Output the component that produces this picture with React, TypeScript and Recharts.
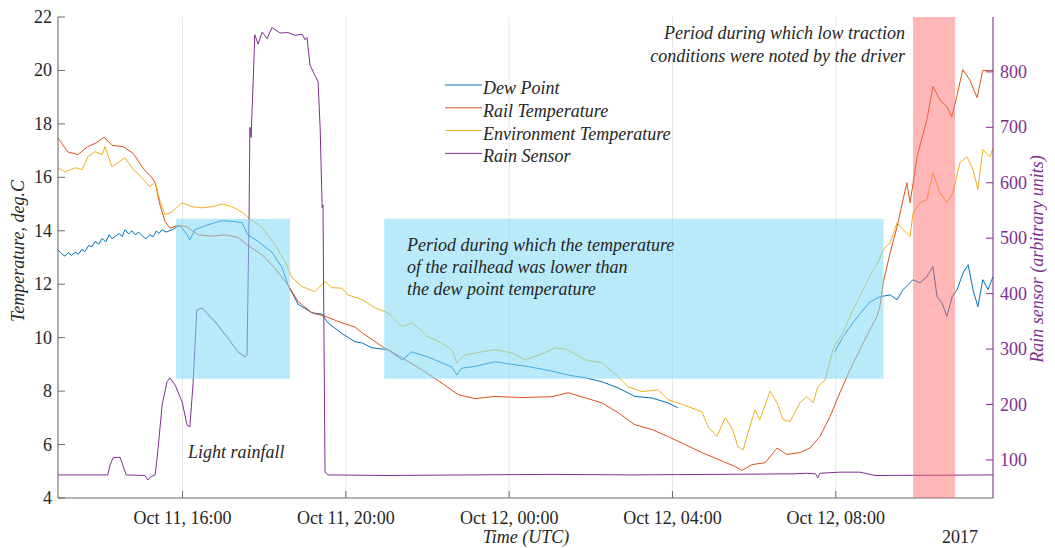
import React from "react";
import {
  LineChart,
  Line,
  XAxis,
  YAxis,
  CartesianGrid,
  ReferenceArea,
} from "recharts";

// time in hours since Oct 11 00:00 UTC
const dewTime = [
  12.95, 13.03, 13.12, 13.2, 13.28, 13.37, 13.45, 13.53, 13.61, 13.7, 13.78, 13.86, 13.95, 14.03, 14.12,
  14.2, 14.27, 14.36, 14.45, 14.52, 14.59, 14.68, 14.76, 14.84, 14.93, 15.02, 15.1, 15.2, 15.28, 15.36,
  15.42, 15.5, 15.6, 15.74, 15.94, 16.11, 16.18,
  16.3, 16.62, 16.97, 17.29, 17.46, 17.6, 17.85, 18.19, 18.44, 18.58, 18.83, 19.17, 19.42, 19.56, 19.91,
  20.22, 20.4, 20.64, 21.03, 21.38, 21.62, 22.01, 22.35, 22.6, 22.72, 22.84, 23.16, 23.65, 24.07, 24.46,
  24.88, 25.12, 25.44, 25.86, 26.27, 26.67, 27.08, 27.5, 27.89, 28.13, 30.0, 31.98, 32.18, 32.42, 32.67,
  32.84, 33.08, 33.33, 33.5, 33.65, 33.89, 34.06, 34.23, 34.38, 34.48, 34.6, 34.72, 34.85, 34.97, 35.12,
  35.24, 35.36, 35.48, 35.6, 35.73, 35.85,
];
const dewPoint: (number | null)[] = [
  13.29, 13.15, 13.05, 13.18, 13.08, 13.2, 13.12, 13.3, 13.22, 13.45, 13.4, 13.6, 13.5, 13.72, 13.58,
  13.85, 13.7, 13.8, 13.9, 13.78, 14.04, 13.88, 14.0, 13.85, 13.95, 13.8, 13.7, 13.85, 13.78, 14.0,
  13.9, 14.04, 13.95, 14.04, 14.2, 13.85, 13.66,
  14.04, 14.22, 14.38, 14.34, 14.3, 13.85, 13.6, 13.2, 12.62, 11.98, 11.25, 10.93, 10.88, 10.56, 10.15,
  9.85, 9.8, 9.62, 9.55, 9.17, 9.47, 9.28, 9.06, 8.9, 8.6, 8.86, 8.92, 9.1, 9.0, 8.92,
  8.8, 8.72, 8.6, 8.5, 8.35, 8.12, 7.8, 7.74, 7.56, 7.38, null, 9.48, 10.04, 10.56, 11.04,
  11.34, 11.53, 11.6, 11.42, 11.8, 12.17, 12.05, 12.28, 12.66, 11.53, 11.3, 10.8, 11.53, 11.8, 12.43,
  12.73, 11.8, 11.16, 12.17, 11.8, 12.28,
];

const railTime = [
  12.95, 13.19, 13.44, 13.68, 13.9, 14.08, 14.27, 14.54, 14.79, 15.03, 15.25, 15.33, 15.45, 15.57, 15.69,
  15.89, 16.11, 16.38, 16.72, 17.04, 17.36, 17.6, 17.95, 18.26, 18.58, 18.83, 19.17, 19.49, 19.91, 20.22,
  20.4, 20.89, 21.38, 21.86, 22.35, 22.75, 23.16, 23.65, 24.31, 24.8, 25.05, 25.44, 25.86, 26.27, 26.67,
  27.08, 27.5, 27.89, 28.31, 28.72, 29.11, 29.53, 29.7, 29.95, 30.27, 30.56, 30.8, 31.12, 31.37, 31.61,
  31.86, 32.1, 32.35, 32.67, 33.01, 33.08, 33.16, 33.33, 33.5, 33.74, 33.82, 33.99, 34.23, 34.38, 34.55,
  34.72, 34.84, 34.96, 35.11, 35.28, 35.46, 35.6, 35.85,
];
const railTemp = [
  17.47, 16.95, 16.85, 17.15, 17.3, 17.5, 17.2, 17.15, 16.9, 16.35, 15.98, 15.8, 14.95, 14.35, 14.1,
  14.2, 14.15, 13.85, 13.8, 13.85, 13.75, 13.45, 13.1, 12.6, 11.98, 11.35, 10.93, 10.8, 10.55, 10.4,
  10.18, 9.67, 9.25, 8.8, 8.3, 7.87, 7.72, 7.8, 7.76, 7.78, 7.79, 7.94, 7.75, 7.56, 7.19,
  6.74, 6.56, 6.3, 6.0, 5.7, 5.45, 5.18, 5.03, 5.25, 5.32, 5.87, 5.63, 5.7, 5.87, 6.3,
  7.05, 7.94, 8.8, 9.8, 10.8, 11.16, 12.05, 13.17, 14.15, 15.8, 15.05, 16.77, 18.15, 19.4, 18.9,
  18.65, 18.27, 19.0, 20.03, 19.65, 18.98, 20.0, 20.0,
];

const envTime = [
  12.95, 13.12, 13.37, 13.54, 13.68, 13.86, 14.03, 14.1, 14.27, 14.42, 14.59, 14.76, 15.01, 15.2, 15.33,
  15.45, 15.57, 15.74, 15.99, 16.23, 16.48, 16.72, 16.97, 17.21, 17.46, 17.6, 17.95, 18.26, 18.51, 18.68,
  18.93, 19.24, 19.49, 19.66, 19.91, 20.05, 20.4, 20.71, 21.03, 21.38, 21.62, 22.01, 22.35, 22.6, 22.72,
  22.92, 23.33, 23.65, 24.07, 24.39, 24.88, 25.12, 25.44, 25.86, 26.27, 26.67, 26.91, 27.25, 27.65, 27.89,
  28.13, 28.38, 28.72, 28.87, 29.09, 29.29, 29.48, 29.6, 29.73, 29.85, 30.02, 30.14, 30.39, 30.56, 30.71,
  30.88, 31.12, 31.29, 31.44, 31.56, 31.74, 31.93, 32.18, 32.42, 32.67, 32.91, 33.03, 33.16, 33.33, 33.5,
  33.65, 33.82, 33.89, 34.06, 34.23, 34.38, 34.55, 34.72, 34.87, 35.04, 35.21, 35.36, 35.48, 35.6, 35.78,
  35.85,
];
const envTemp = [
  16.36, 16.2, 16.36, 16.29, 16.77, 16.96, 16.85, 17.15, 16.4, 16.55, 16.73, 16.36, 15.98, 15.65, 15.83,
  15.1, 14.6, 14.7, 15.05, 14.9, 14.86, 14.9, 15.0, 14.9, 14.7, 14.5, 14.12, 13.48, 12.85, 12.25,
  11.91, 11.72, 12.1, 11.87, 11.85, 11.6, 11.42, 11.12, 10.93, 10.41, 10.56, 10.04, 9.8, 9.55, 9.06,
  9.36, 9.47, 9.55, 9.43, 9.17, 9.43, 9.62, 9.55, 9.17, 9.06, 8.54, 8.16, 7.98, 8.05, 7.68,
  7.56, 7.42, 7.23, 6.67, 6.3, 7.0, 6.55, 5.92, 5.8, 6.44, 7.3, 6.93, 8.0, 7.56, 6.93,
  6.86, 7.56, 7.8, 7.56, 8.16, 8.42, 9.55, 10.22, 11.04, 11.8, 12.53, 12.8, 13.29, 13.55, 14.3,
  14.04, 13.78, 14.67, 15.05, 15.16, 16.17, 15.42, 15.05, 15.42, 16.55, 16.77, 16.29, 15.54, 17.04, 16.77,
  17.1,
];

const rainTime = [
  12.95, 14.17, 14.22, 14.3, 14.47, 14.54, 14.62, 15.08, 15.15, 15.23, 15.33, 15.4, 15.5, 15.62, 15.69,
  15.82, 15.99, 16.11, 16.18, 16.26, 16.35, 16.48, 16.8, 17.11, 17.36, 17.53, 17.58, 17.63, 17.65, 17.68,
  17.7, 17.73, 17.77, 17.85, 17.95, 18.07, 18.19, 18.39, 18.58, 18.75, 18.93, 19.0, 19.05, 19.12, 19.2,
  19.27, 19.32, 19.37, 19.42, 19.44, 19.49, 19.56, 21.0, 23.0, 25.0, 27.0, 29.0, 31.0, 31.25, 31.5,
  31.56, 31.61, 32.1, 32.59, 32.84, 32.96, 35.85,
];
const rainSensor = [
  73, 73, 90, 104, 105, 90, 73, 72, 64, 70, 73, 120, 199, 241, 248,
  235, 205, 163, 160, 240, 371, 374, 349, 320, 295, 286, 290, 540, 700, 682,
  725, 782, 867, 850, 872, 860, 880, 870, 871, 866, 868, 858, 862, 813, 800,
  790, 782, 700, 555, 560, 78, 73, 72, 73, 74, 73, 74, 75, 76, 75,
  68, 76, 78, 78, 74, 72, 73,
];

const xTicks = [16, 20, 24, 28, 32];
const xTickLabels = ["Oct 11, 16:00", "Oct 11, 20:00", "Oct 12, 00:00", "Oct 12, 04:00", "Oct 12, 08:00"];
const tempTicks = [4, 6, 8, 10, 12, 14, 16, 18, 20, 22];
const rainTicks = [100, 200, 300, 400, 500, 600, 700, 800];

const series = [
  { name: "Dew Point", color: "#0072BD" },
  { name: "Rail Temperature", color: "#D95319" },
  { name: "Environment Temperature", color: "#EDB120" },
  { name: "Rain Sensor", color: "#7E2F8E" },
];

const pairs = (t: number[], v: (number | null)[]) => t.map((x, i) => ({ t: x, v: v[i] }));
const dewData = pairs(dewTime, dewPoint);
const railData = pairs(railTime, railTemp);
const envData = pairs(envTime, envTemp);
const rainData = pairs(rainTime, rainSensor);

const FONT = "'Liberation Serif', 'Times New Roman', serif";
const INK = "#262626";
const AXIS = "#6b6b6b";
const PURPLE = "#7E2F8E";

const W = 1047;
const H = 540;

function LeftTick(props: any) {
  const { x, y, payload } = props;
  return (
    <g>
      <line x1={x} x2={x + 7} y1={y} y2={y} stroke={AXIS} />
      <text x={x - 6} y={y + 6} textAnchor="end" fontSize={18} fontFamily={FONT} fill={INK}>
        {payload.value}
      </text>
    </g>
  );
}

function RightTick(props: any) {
  const { x, y, payload } = props;
  return (
    <g>
      <line x1={x} x2={x - 7} y1={y} y2={y} stroke={PURPLE} />
      <text x={x + 7} y={y + 6} textAnchor="start" fontSize={18} fontFamily={FONT} fill={PURPLE}>
        {payload.value}
      </text>
    </g>
  );
}

function BottomTick(props: any) {
  const { x, y, payload } = props;
  const label = xTickLabels[xTicks.indexOf(payload.value)];
  return (
    <g>
      <line x1={x} x2={x} y1={y} y2={y - 7} stroke={AXIS} />
      <text x={x} y={y + 26} textAnchor="middle" fontSize={18} fontFamily={FONT} fill={INK}>
        {label}
      </text>
    </g>
  );
}

const italic = { fontFamily: FONT, fontStyle: "italic" as const, fontSize: 18, fill: INK };

export default function App() {
  return (
    <div style={{ position: "relative", width: W, height: H }}>
      <LineChart width={W} height={H} margin={{ top: 9, right: 0, bottom: 0, left: 0 }}>
        <CartesianGrid horizontal={false} stroke="#e6e6e6" />
        <XAxis
          dataKey="t"
          type="number"
          domain={[12.95, 35.85]}
          ticks={xTicks}
          allowDataOverflow
          height={50}
          tickSize={0}
          tickMargin={0}
          stroke={AXIS}
          tick={<BottomTick />}
        />
        <YAxis
          domain={[4, 22]}
          ticks={tempTicks}
          allowDataOverflow
          width={50}
          tickSize={0}
          tickMargin={0}
          stroke={AXIS}
          tick={<LeftTick />}
        />
        <YAxis
          yAxisId="rain"
          orientation="right"
          domain={[31.4, 899]}
          ticks={rainTicks}
          allowDataOverflow
          width={62}
          tickSize={0}
          tickMargin={0}
          stroke={PURPLE}
          tick={<RightTick />}
        />
        <Line data={dewData} dataKey="v" stroke={series[0].color} strokeWidth={1} dot={false} isAnimationActive={false} />
        <Line data={railData} dataKey="v" stroke={series[1].color} strokeWidth={1} dot={false} isAnimationActive={false} />
        <Line data={envData} dataKey="v" stroke={series[2].color} strokeWidth={1} dot={false} isAnimationActive={false} />
        <Line
          data={rainData}
          dataKey="v"
          yAxisId="rain"
          stroke={series[3].color}
          strokeWidth={1}
          dot={false}
          isAnimationActive={false}
        />
        <ReferenceArea x1={15.84} x2={18.63} y1={8.46} y2={14.45} fill="#7fd8f5" fillOpacity={0.55} stroke="none" zIndex={1000} />
        <ReferenceArea x1={20.94} x2={33.17} y1={8.46} y2={14.45} fill="#7fd8f5" fillOpacity={0.55} stroke="none" zIndex={1000} />
        <ReferenceArea x1={33.89} x2={34.92} y1={4} y2={22} fill="#ff6666" fillOpacity={0.48} stroke="none" zIndex={1000} />
      </LineChart>

      <svg width={W} height={H} style={{ position: "absolute", left: 0, top: 0, pointerEvents: "none" }}>
        {series.map((s, i) => (
          <g key={s.name}>
            <line x1={437} x2={474} y1={77 + i * 22.8} y2={77 + i * 22.8} stroke={s.color} strokeWidth={1} />
            <text x={475} y={86 + i * 22.8} {...italic}>
              {s.name}
            </text>
          </g>
        ))}
        <text x={897} y={31} textAnchor="end" {...italic}>
          Period during which low traction
        </text>
        <text x={897} y={54} textAnchor="end" {...italic}>
          conditions were noted by the driver
        </text>
        <text x={399} y={243} {...italic}>
          Period during which the temperature
        </text>
        <text x={399} y={265} {...italic}>
          of the railhead was lower than
        </text>
        <text x={399} y={287} {...italic}>
          the dew point temperature
        </text>
        <text x={180} y={450} {...italic}>
          Light rainfall
        </text>
        <text x={518} y={535} textAnchor="middle" {...italic}>
          Time (UTC)
        </text>
        <text x={952} y={535} textAnchor="middle" fontSize={18} fontFamily={FONT} fill={INK}>
          2017
        </text>
        <text transform="translate(16,243) rotate(-90)" textAnchor="middle" {...italic}>
          Temperature, deg.C
        </text>
        <text transform="translate(1035,251) rotate(-90)" textAnchor="middle" {...italic} fill={PURPLE}>
          Rain sensor (arbitrary units)
        </text>
      </svg>
    </div>
  );
}
